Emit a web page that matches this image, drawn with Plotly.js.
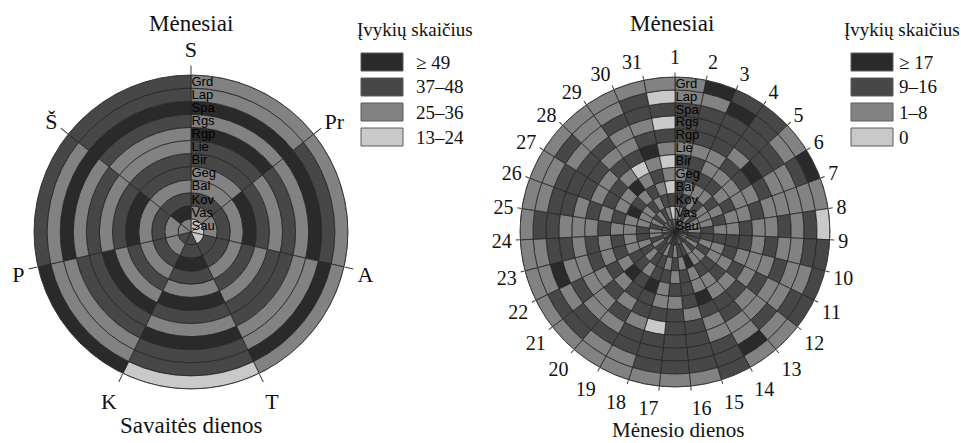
<!DOCTYPE html>
<html><head><meta charset="utf-8">
<script src="https://cdn.plot.ly/plotly-3.0.1.min.js"></script>
<style>html,body{margin:0;padding:0;background:#fff}#chart{width:961px;height:443px}</style>
</head><body><div id="chart"></div>
<script>
// Ring labels, inner (Sau) to outer (Grd)
const monthLabels = ['Sau','Vas','Kov','Bal','Geg','Bir','Lie','Rgp','Rgs','Spa','Lap','Grd'];
const weekdayLabels = ['S','Pr','A','T','K','P','Š'];
const dayLabels = ['1','2','3','4','5','6','7','8','9','10','11','12','13','14','15','16','17','18','19','20','21','22','23','24','25','26','27','28','29','30','31'];
const legendLeft = ['≥ 49','37–48','25–36','13–24'];
const legendRight = ['≥ 17','9–16','1–8','0'];
// Level: 0 lightest .. 3 darkest
// Weekday chart: one array per month, wedges clockwise from S
const wkSau = [0,0,0,2,2,1,1];
const wkVas = [1,1,2,2,1,1,3];
const wkKov = [2,2,2,3,2,2,2];
const wkBal = [1,1,1,2,1,1,1];
const wkGeg = [1,3,2,1,2,3,2];
const wkBir = [2,2,1,3,1,2,2];
const wkLie = [2,1,2,2,3,1,1];
const wkRgp = [3,2,2,1,2,2,1];
const wkRgs = [1,1,1,3,2,1,2];
const wkSpa = [3,3,1,2,1,3,3];
const wkLap = [1,2,3,2,1,1,2];
const wkGrd = [1,1,1,0,3,2,2];
// Day-of-month chart: one array per month, wedges clockwise from 1
const dmSau = [2,2,1,2,1,2,1,2,2,1,1,2,2,1,2,2,2,2,1,2,2,1,2,1,1,2,1,2,1,2,1];
const dmVas = [1,1,2,1,2,1,1,1,2,2,1,2,1,2,2,1,2,1,2,2,1,2,1,1,2,1,2,1,2,1,0];
const dmKov = [2,2,1,2,1,1,1,2,2,1,2,1,1,3,1,2,1,2,2,1,2,1,2,2,1,1,1,2,1,2,2];
const dmBal = [2,1,1,1,2,1,2,1,2,1,1,2,2,1,2,1,2,2,1,2,2,1,1,1,1,3,2,1,2,1,0];
const dmGeg = [1,2,2,2,1,2,1,1,2,2,1,2,1,1,2,2,1,3,2,3,1,2,2,1,2,1,1,3,1,2,1];
const dmBir = [2,2,1,1,1,1,1,2,2,1,2,1,1,3,2,1,1,2,2,1,2,1,1,2,1,2,2,1,0,1,0];
const dmLie = [1,1,1,2,2,1,2,1,1,1,1,2,2,2,1,2,2,2,1,2,1,2,2,1,2,1,1,2,2,3,1];
const dmRgp = [2,2,2,1,3,2,1,1,2,1,2,1,2,1,2,2,0,1,2,1,1,1,1,1,1,2,2,1,1,2,2];
const dmRgs = [2,2,2,2,2,1,1,2,1,2,1,1,1,1,2,2,2,2,1,1,2,1,2,1,2,2,2,2,1,1,0];
const dmSpa = [2,2,2,2,2,1,1,1,1,1,1,2,1,2,2,2,2,2,2,2,1,3,2,2,2,2,1,1,2,2,2];
const dmLap = [1,1,3,2,1,2,1,2,2,1,2,1,3,2,2,2,2,1,1,2,2,1,1,2,1,1,2,1,1,2,0];
const dmGrd = [1,3,2,2,1,3,1,0,2,2,2,1,1,2,1,1,1,1,1,1,1,1,1,1,1,1,1,1,1,1,1];

const wkRings = [wkSau,wkVas,wkKov,wkBal,wkGeg,wkBir,wkLie,wkRgp,wkRgs,wkSpa,wkLap,wkGrd];
const dmRings = [dmSau,dmVas,dmKov,dmBal,dmGeg,dmBir,dmLie,dmRgp,dmRgs,dmSpa,dmLap,dmGrd];
const shades = ['#c9c9c9','#828282','#474747','#2a2a2a'];

function cells(rings, n, sub){
  const step = 360/n, r=[], base=[], theta=[], color=[];
  rings.forEach((arr, ri)=>{
    arr.forEach((lv, wi)=>{
      r.push(1); base.push(ri); theta.push(wi*step + step/2); color.push(shades[lv]);
    });
  });
  return {type:'barpolar', subplot:sub, r, base, theta, width: Array(theta.length).fill(step),
    marker:{color, line:{color:'#262626', width:0.8}}, hoverinfo:'skip', showlegend:false};
}

const serif = 'Liberation Serif, Times New Roman, serif';
const ringTicks = monthLabels.map((_,i)=>i+0.5);
function polarLayout(domain, n, labels, ticklen, fsize){
  const step = 360/n;
  return {
    domain, bgcolor:'rgba(0,0,0,0)', hole:0,
    radialaxis:{range:[0,12], tickvals:ringTicks, ticktext:monthLabels, angle:90, tickangle:90,
      showgrid:false, showline:false, ticks:'', tickfont:{family:'Liberation Sans, Arial, sans-serif', size:13, color:'#000'}},
    angularaxis:{rotation:90, direction:'clockwise', tickvals:labels.map((_,i)=>i*step), ticktext:labels,
      ticks:'outside', ticklen, tickcolor:'#3a3a3a', tickwidth:1, showgrid:false, showline:true,
      linecolor:'#3a3a3a', linewidth:1, tickfont:{family:serif, size:fsize, color:'#111'}}
  };
}

function px(x){return x/961;} function py(y){return 1-y/443;}
const shapes=[], annotations=[];
function legend(x0, tx, labels, tx0){
  annotations.push({xref:'paper',yref:'paper',x:px(tx0),y:py(30),xanchor:'left',yanchor:'middle',showarrow:false,
    text:'Įvykių skaičius', font:{family:serif,size:19,color:'#111'}});
  const ys=[53,78,103,128];
  labels.forEach((t,i)=>{
    shapes.push({type:'rect',xref:'paper',yref:'paper',x0:px(x0),x1:px(x0+42),y0:py(ys[i]),y1:py(ys[i]+18),
      fillcolor:shades[3-i], line:{color:'#5a5a5a',width:1}});
    annotations.push({xref:'paper',yref:'paper',x:px(tx),y:py(ys[i]+9),xanchor:'left',yanchor:'middle',showarrow:false,
      text:t, font:{family:serif,size:19,color:'#111'}});
  });
}
legend(361, 414, legendLeft, 355);
legend(851, 897, legendRight, 842);
[['Mėnesiai',191,24,23],['Mėnesiai',672,24,23],['Savaitės dienos',191,425,23],['Mėnesio dienos',678,430,21]].forEach(a=>{
  annotations.push({xref:'paper',yref:'paper',x:px(a[1]),y:py(a[2]),xanchor:'center',yanchor:'middle',showarrow:false,
    text:a[0], font:{family:serif,size:a[3],color:'#111'}});
});

const layout = {
  width:961, height:443, margin:{l:0,r:0,t:0,b:0}, paper_bgcolor:'#fff', showlegend:false,
  polar: polarLayout({x:[0.0354,0.3621], y:[0.1219,0.8307]}, 7, weekdayLabels, 9, 22),
  polar2: polarLayout({x:[0.5411,0.8637], y:[0.1265,0.8262]}, 31, dayLabels, 4, 20),
  shapes, annotations
};
Plotly.newPlot('chart', [cells(wkRings,7,'polar'), cells(dmRings,31,'polar2')], layout, {displayModeBar:false, staticPlot:true});
</script></body></html>
